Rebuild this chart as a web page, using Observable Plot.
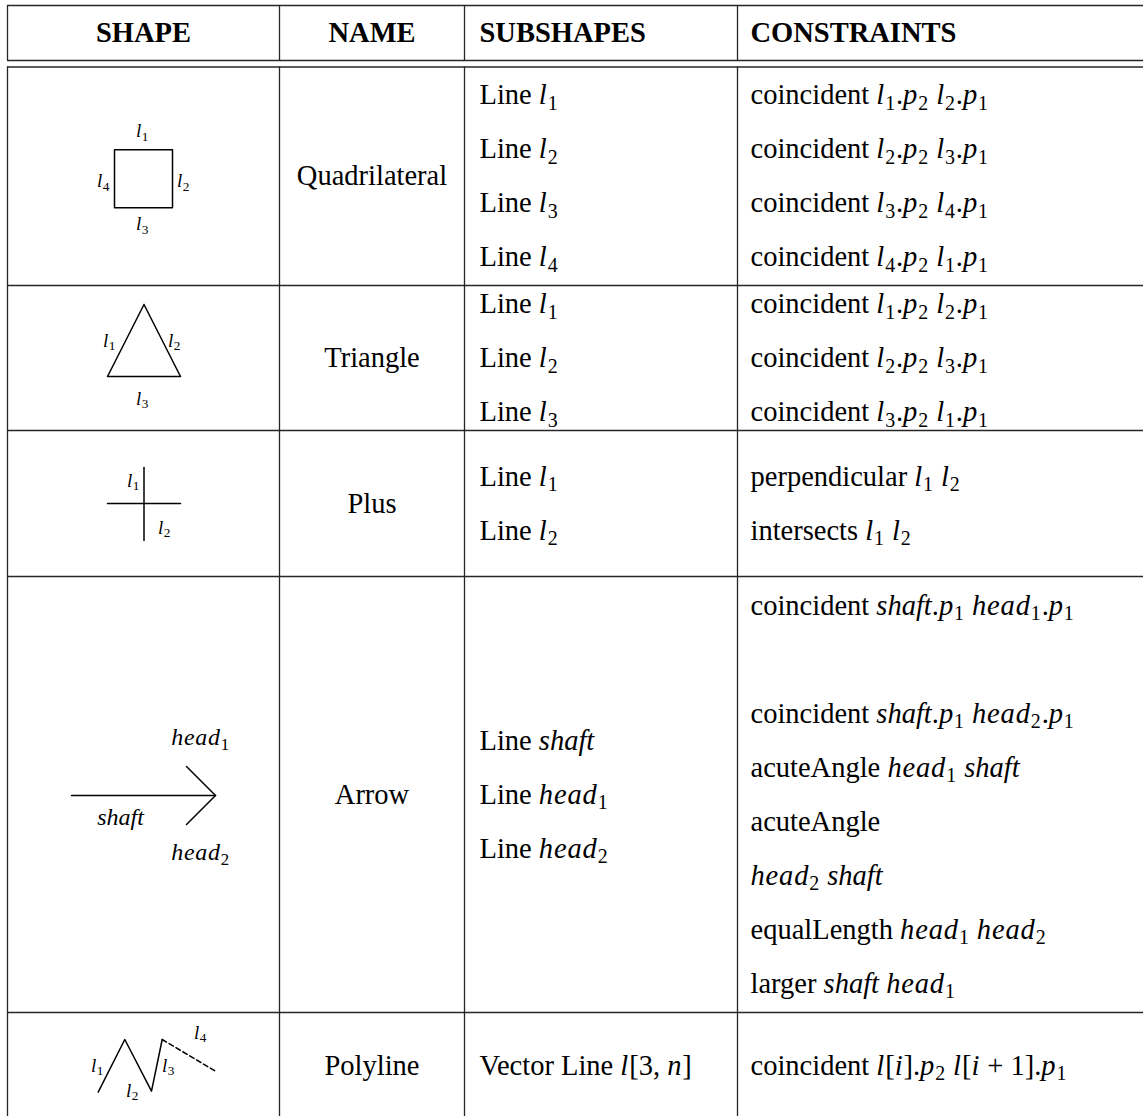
<!DOCTYPE html>
<html>
<head>
<meta charset="utf-8">
<script src="https://cdn.jsdelivr.net/npm/d3@7"></script>
<script src="https://cdn.jsdelivr.net/npm/@observablehq/plot@0.6"></script>
<style>
  html, body { margin: 0; padding: 0; background: #fff; }
  #chart svg text { white-space: pre; }
</style>
</head>
<body>
<div id="chart"></div>
<script>
// ---------------- DATA ----------------
// markup: *...* = math italic, /.../ = text italic, _X = subscript character X
const headers = ["SHAPE", "NAME", "SUBSHAPES", "CONSTRAINTS"];

const shapeNames = ["Quadrilateral", "Triangle", "Plus", "Arrow", "Polyline"];

const subshapes = [
  ["Line *l*_1", "Line *l*_2", "Line *l*_3", "Line *l*_4"],
  ["Line *l*_1", "Line *l*_2", "Line *l*_3"],
  ["Line *l*_1", "Line *l*_2"],
  ["Line /shaft/", "Line *head*_1", "Line *head*_2"],
  ["Vector Line *l*[3, *n*]"]
];

const constraints = [
  ["coincident *l*_1.*p*_2 *l*_2.*p*_1",
   "coincident *l*_2.*p*_2 *l*_3.*p*_1",
   "coincident *l*_3.*p*_2 *l*_4.*p*_1",
   "coincident *l*_4.*p*_2 *l*_1.*p*_1"],
  ["coincident *l*_1.*p*_2 *l*_2.*p*_1",
   "coincident *l*_2.*p*_2 *l*_3.*p*_1",
   "coincident *l*_3.*p*_2 *l*_1.*p*_1"],
  ["perpendicular *l*_1 *l*_2",
   "intersects *l*_1 *l*_2"],
  ["coincident /shaft/.*p*_1 *head*_1.*p*_1",
   "",
   "coincident /shaft/.*p*_1 *head*_2.*p*_1",
   "acuteAngle *head*_1 /shaft/",
   "acuteAngle",
   "*head*_2 /shaft/",
   "equalLength *head*_1 *head*_2",
   "larger /shaft/ *head*_1"],
  ["coincident *l*[*i*].*p*_2 *l*[*i* + 1].*p*_1"]
];

// glyph geometry of the SHAPE column (local units around the cell centre)
const quadGlyph = [[[-29, -26.5], [29, -26.5], [29, 31.5], [-29, 31.5], [-29, -26.5]]];
const triangleGlyph = [[[0.5, -53.5], [37, 18.5], [-36, 18.5], [0.5, -53.5]]];
const plusGlyph = [[[0.5, -36], [0.5, 37]], [[-36, 0], [37, 0]]];
const arrowGlyph = [[[-72, 1], [72, 1]], [[43, -28], [72, 1], [43, 30]]];
const polylineGlyph = [[[-45.3, 26.7], [-18.7, -26], [8, 25.7], [18.7, -26]]];
const polylineDashed = [[[18.7, -26], [72, 5.7]]];

const quadLabels = [["*l*_1", -1, -45.5], ["*l*_2", 40, 4.5], ["*l*_3", -1, 47.5], ["*l*_4", -40, 4.5]];
const triangleLabels = [["*l*_1", -34, -17.5], ["*l*_2", 31, -17.5], ["*l*_3", -1, 40.5]];
const plusLabels = [["*l*_1", -10, -23], ["*l*_2", 21, 24]];
const arrowLabels = [["*head*_1", 57, -57], ["/shaft/", -23, 23], ["*head*_2", 57, 58]];
const polylineLabels = [["*l*_1", -46, 0], ["*l*_2", -11, 25], ["*l*_3", 25, 0], ["*l*_4", 57, -33]];

// ---------------- LAYOUT ----------------
const W = 1143, H = 1116;
const colRules = [7, 279, 464, 737];
const tableRight = 1143;
const topRule = 5;
const headRules = [60, 66.5];
const rowEdges = [66.5, 285, 430, 576, 1012, 1118];
const lineStep = 54;
const padStart = [0, 0, 15, 13];
const mainSize = 28.5;
const serif = "Liberation Serif, Times New Roman, serif";

const rowCenter = i => (rowEdges[i] + rowEdges[i + 1]) / 2;
const colCenter = j => (colRules[j] + colRules[j + 1]) / 2;
const shapeCx = colCenter(0);

// horizontal rules
const hRules = [
  {y: topRule, x1: colRules[0], x2: tableRight},
  {y: headRules[0], x1: colRules[0], x2: tableRight},
  {y: headRules[1], x1: colRules[0], x2: tableRight},
  ...rowEdges.slice(1, -1).map(y => ({y, x1: colRules[0], x2: tableRight}))
];
// vertical rules (broken by the double header rule)
const vRules = colRules.flatMap(x => [
  {x, y1: topRule, y2: headRules[0]},
  {x, y1: headRules[1], y2: H}
]);

// header cells
const headY = (topRule + headRules[0]) / 2;
const headCenter = headers.slice(0, 2).map((t, j) => ({t, x: colCenter(j), y: headY}));
const headStart = headers.slice(2).map((t, k) => ({t, x: colRules[k + 2] + padStart[k + 2], y: headY}));

// body cells
const nameCells = shapeNames.map((t, i) => ({t, x: colCenter(1), y: rowCenter(i)}));
const stackCells = (lists, col) => lists.flatMap((list, i) =>
  list.map((t, k) => ({t, x: colRules[col] + padStart[col], y: rowCenter(i) + (k - (list.length - 1) / 2) * lineStep}))
      .filter(d => d.t !== ""));
const subCells = stackCells(subshapes, 2);
const consCells = stackCells(constraints, 3);

// glyphs
const glyphSets = [
  {row: 0, solid: quadGlyph, dashed: [], labels: quadLabels, size: 19},
  {row: 1, solid: triangleGlyph, dashed: [], labels: triangleLabels, size: 19},
  {row: 2, solid: plusGlyph, dashed: [], labels: plusLabels, size: 19},
  {row: 3, solid: arrowGlyph, dashed: [], labels: arrowLabels, size: 24},
  {row: 4, solid: polylineGlyph, dashed: polylineDashed, labels: polylineLabels, size: 19}
];
const toPts = (segs, row, tag) => segs.flatMap((seg, s) =>
  seg.map(([dx, dy]) => ({x: shapeCx + dx, y: rowCenter(row) + dy, z: `${tag}-${row}-${s}`})));
const solidPts = glyphSets.flatMap(g => toPts(g.solid, g.row, "s"));
const dashedPts = glyphSets.flatMap(g => toPts(g.dashed, g.row, "d"));
const smallLabels = glyphSets.filter(g => g.size === 19).flatMap(g =>
  g.labels.map(([t, dx, dy]) => ({t, x: shapeCx + dx, y: rowCenter(g.row) + dy})));
const bigLabels = glyphSets.filter(g => g.size === 24).flatMap(g =>
  g.labels.map(([t, dx, dy]) => ({t, x: shapeCx + dx, y: rowCenter(g.row) + dy})));

const ink = "#262626";

const chart = Plot.plot({
  width: W,
  height: H,
  margin: 0,
  x: {domain: [0, W], range: [0, W], axis: null},
  y: {domain: [0, H], range: [0, H], axis: null},
  style: {background: "#fff", fontFamily: serif, overflow: "visible"},
  marks: [
    Plot.ruleY(hRules, {y: "y", x1: "x1", x2: "x2", stroke: ink, strokeWidth: 1.5}),
    Plot.ruleX(vRules, {x: "x", y1: "y1", y2: "y2", stroke: ink, strokeWidth: 1.3}),
    Plot.text(headCenter, {x: "x", y: "y", text: "t", textAnchor: "middle", fontSize: mainSize, fontWeight: "bold", fontFamily: serif, fill: "#000"}),
    Plot.text(headStart, {x: "x", y: "y", text: "t", textAnchor: "start", fontSize: mainSize, fontWeight: "bold", fontFamily: serif, fill: "#000"}),
    Plot.text(nameCells, {x: "x", y: "y", text: "t", textAnchor: "middle", fontSize: mainSize, fontFamily: serif, fill: "#000"}),
    Plot.text(subCells, {x: "x", y: "y", text: "t", textAnchor: "start", fontSize: mainSize, fontFamily: serif, fill: "#000"}),
    Plot.text(consCells, {x: "x", y: "y", text: "t", textAnchor: "start", fontSize: mainSize, fontFamily: serif, fill: "#000"}),
    Plot.line(solidPts, {x: "x", y: "y", z: "z", stroke: "#000", strokeWidth: 1.5, curve: "linear"}),
    Plot.line(dashedPts, {x: "x", y: "y", z: "z", stroke: "#000", strokeWidth: 1.5, strokeDasharray: "5,3"}),
    Plot.text(smallLabels, {x: "x", y: "y", text: "t", textAnchor: "middle", fontSize: 19, fontFamily: serif, fill: "#000"}),
    Plot.text(bigLabels, {x: "x", y: "y", text: "t", textAnchor: "middle", fontSize: 24, fontFamily: serif, fill: "#000"})
  ]
});

document.getElementById("chart").appendChild(chart);

// ---------------- rich text (italic + subscripts) ----------------
const SVGNS = "http://www.w3.org/2000/svg";
function richify(el) {
  const src = el.textContent;
  if (!/[*_\/]/.test(src)) return;
  const fs = parseFloat(getComputedStyle(el).fontSize) || mainSize;
  const subSize = fs * 0.7, shift = fs * 0.2, mathSpacing = fs * 0.03;
  while (el.firstChild) el.removeChild(el.firstChild);
  let mode = "roman", buf = "", lowered = false;
  const add = (txt, m, sub) => {
    const ts = document.createElementNS(SVGNS, "tspan");
    ts.textContent = txt;
    if (m === "math" || m === "text") ts.setAttribute("font-style", "italic");
    if (m === "math") ts.setAttribute("letter-spacing", mathSpacing);
    if (sub) {
      ts.setAttribute("font-size", subSize);
      ts.setAttribute("letter-spacing", mathSpacing);
      if (!lowered) { ts.setAttribute("dy", shift); lowered = true; }
    } else if (lowered) {
      ts.setAttribute("dy", -shift); lowered = false;
    }
    el.appendChild(ts);
  };
  const flush = () => { if (buf) { add(buf, mode, false); buf = ""; } };
  for (let i = 0; i < src.length; i++) {
    const c = src[i];
    if (c === "*") { flush(); mode = mode === "math" ? "roman" : "math"; }
    else if (c === "/") { flush(); mode = mode === "text" ? "roman" : "text"; }
    else if (c === "_") { flush(); add(src[i + 1], "roman", true); i++; }
    else buf += c;
  }
  flush();
}
chart.querySelectorAll("text").forEach(richify);
</script>
</body>
</html>
